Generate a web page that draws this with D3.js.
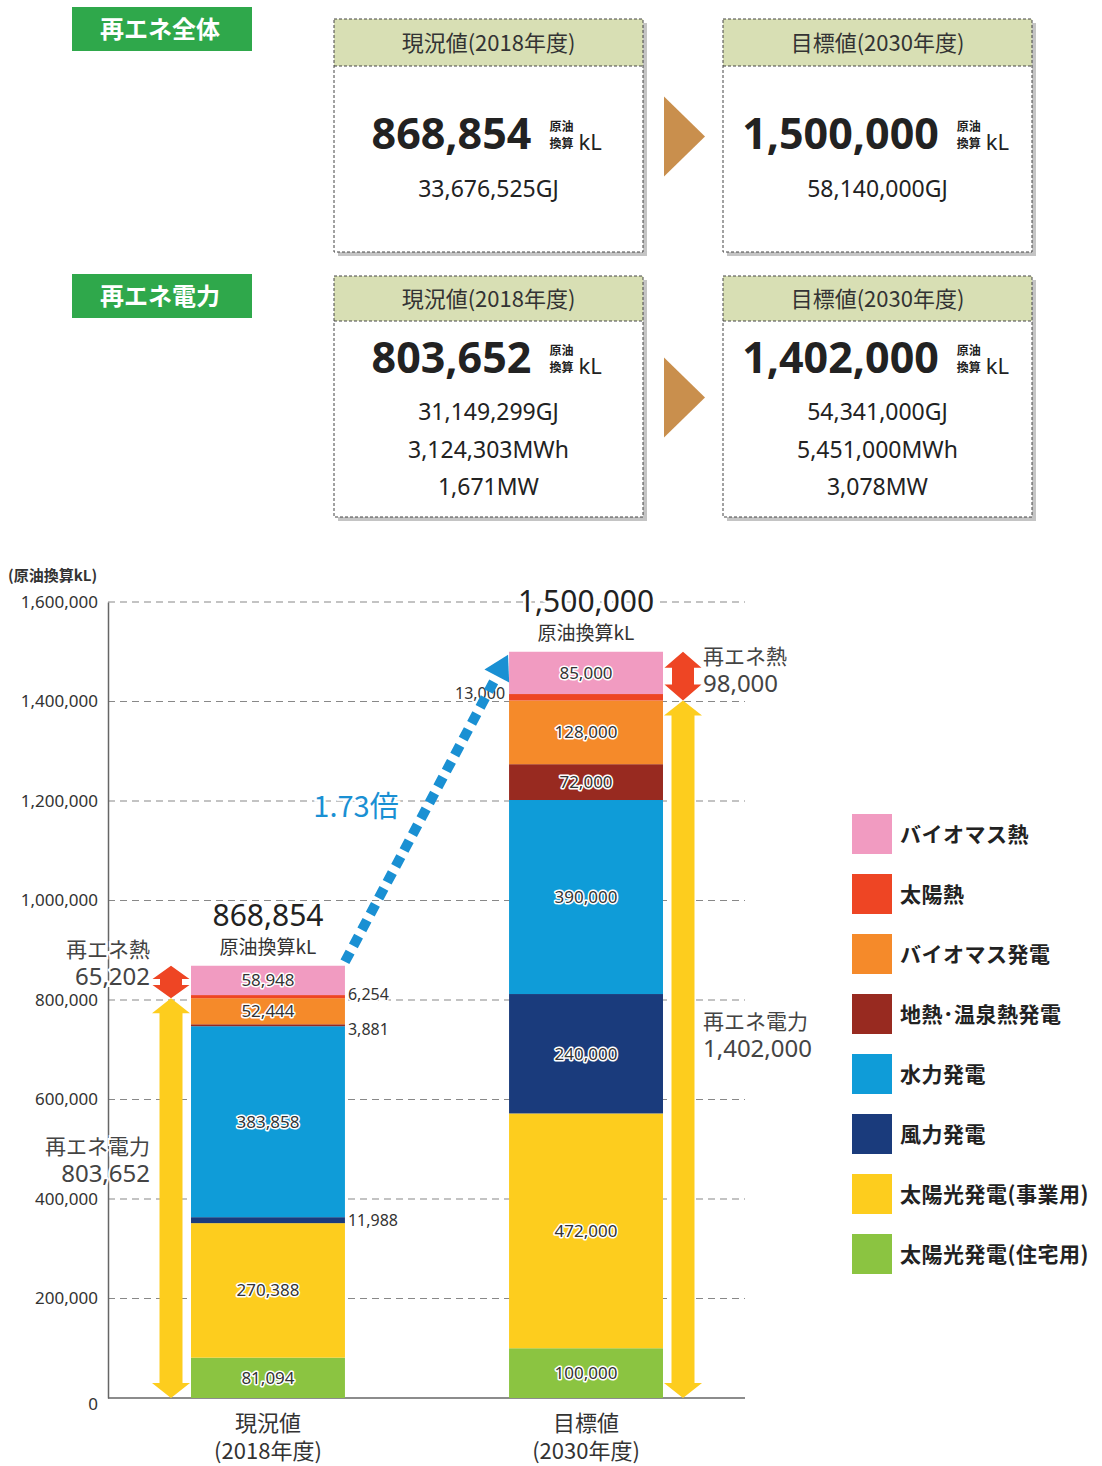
<!DOCTYPE html>
<html>
<head>
<meta charset="utf-8">
<script src="https://cdn.jsdelivr.net/npm/d3@7"></script>
<style>
  body { margin: 0; background: #fff; }
  svg { display: block; font-family: "Noto Sans CJK JP", "Noto Sans", sans-serif; }
</style>
</head>
<body>
<svg id="chart" width="1102" height="1466"></svg>
<script>
// *** data ***
const categories = ['現況値', '目標値'];
const years = ['(2018年度)', '(2030年度)'];
const series = [
  'バイオマス熱', '太陽熱', 'バイオマス発電', '地熱･温泉熱発電',
  '水力発電', '風力発電', '太陽光発電(事業用)', '太陽光発電(住宅用)'
];
const colors = ['#F19BC1', '#EE4524', '#F58A2A', '#982A20', '#0F9CD8', '#1A3B7C', '#FDCD1E', '#8BC441'];
// bottom -> top order in the stack
const stackOrder = [7, 6, 5, 4, 3, 2, 1, 0];
const values2018 = [58948, 6254, 52444, 3881, 383858, 11988, 270388, 81094];
const values2030 = [85000, 13000, 128000, 72000, 390000, 240000, 472000, 100000];
const totals = [868854, 1500000];
const heatTotals = [65202, 98000];
const powerTotals = [803652, 1402000];
const yTicks = [0, 200000, 400000, 600000, 800000, 1000000, 1200000, 1400000, 1600000];
// thin segments labelled outside the bar
const outsideLabels = [[1, 3, 5], [1]];

// summary cards
const groupLabels = ['再エネ全体', '再エネ電力'];
const cardHeaders = ['現況値(2018年度)', '目標値(2030年度)'];
const cardMain = [['868,854', '1,500,000'], ['803,652', '1,402,000']];
const cardSubs = [
  [['33,676,525GJ'], ['58,140,000GJ']],
  [['31,149,299GJ', '3,124,303MWh', '1,671MW'], ['54,341,000GJ', '5,451,000MWh', '3,078MW']]
];

const svg = d3.select('#chart');
const fmt = d3.format(',');

// *** summary cards ***
const rows = [
  { top: 19, bottom: 252, head: 47, mainY: 149, subY: 197, labelY: 7 },
  { top: 276, bottom: 517, head: 45, mainY: 373, subY: 420, labelY: 274 }
];
const cardX = [334, 723];
const cardW = 309;

rows.forEach((r, ri) => {
  svg.append('rect')
    .attr('x', 72).attr('y', r.labelY).attr('width', 180).attr('height', 44)
    .attr('fill', '#2FA84B');
  svg.append('text')
    .attr('x', 160).attr('y', r.labelY + 31)
    .attr('text-anchor', 'middle')
    .attr('fill', '#fff').attr('font-size', 24).attr('font-weight', 700)
    .text(groupLabels[ri]);

  cardX.forEach((x, ci) => {
    const h = r.bottom - r.top;
    const g = svg.append('g');
    g.append('rect')
      .attr('x', x + 4).attr('y', r.top + 4).attr('width', cardW).attr('height', h)
      .attr('fill', '#c4c4c4');
    g.append('rect')
      .attr('x', x).attr('y', r.top).attr('width', cardW).attr('height', h)
      .attr('fill', '#fff');
    g.append('rect')
      .attr('x', x).attr('y', r.top).attr('width', cardW).attr('height', r.head)
      .attr('fill', '#D8DFB4');
    g.append('rect')
      .attr('x', x).attr('y', r.top).attr('width', cardW).attr('height', h)
      .attr('fill', 'none').attr('stroke', '#444').attr('stroke-width', 1)
      .attr('stroke-dasharray', '3,2');
    g.append('line')
      .attr('x1', x).attr('x2', x + cardW)
      .attr('y1', r.top + r.head).attr('y2', r.top + r.head)
      .attr('stroke', '#444').attr('stroke-dasharray', '3,2');
    const cx = x + cardW / 2;
    g.append('text')
      .attr('x', cx).attr('y', r.top + r.head / 2 + 8)
      .attr('text-anchor', 'middle').attr('fill', '#333').attr('font-size', 22)
      .text(cardHeaders[ci]);

    // main value + unit
    const main = g.append('text')
      .attr('y', r.mainY).attr('fill', '#222')
      .attr('font-size', 43).attr('font-weight', 700)
      .attr('font-family', '"Noto Sans", sans-serif')
      .text(cardMain[ri][ci]);
    const mw = main.node().getComputedTextLength();
    const total = mw + 18 + 56;
    const left = cx - total / 2;
    main.attr('x', left);
    const ux = left + mw + 18;
    g.append('text').attr('x', ux).attr('y', r.mainY - 18)
      .attr('font-size', 12).attr('font-weight', 700).attr('fill', '#222').text('原油');
    g.append('text').attr('x', ux).attr('y', r.mainY - 1)
      .attr('font-size', 12).attr('font-weight', 700).attr('fill', '#222').text('換算');
    g.append('text').attr('x', ux + 29).attr('y', r.mainY + 1)
      .attr('font-size', 22).attr('fill', '#222')
      .attr('font-family', '"Noto Sans", sans-serif').text('kL');

    cardSubs[ri][ci].forEach((s, si) => {
      g.append('text')
        .attr('x', cx).attr('y', r.subY + si * 37.5)
        .attr('text-anchor', 'middle').attr('fill', '#222').attr('font-size', 23)
        .attr('font-family', '"Noto Sans", sans-serif')
        .text(s);
    });
  });

  // arrow between cards
  const my = (r.top + r.bottom) / 2 + 1;
  svg.append('path')
    .attr('d', `M664,${my - 40}L705,${my}L664,${my + 40}Z`)
    .attr('fill', '#C98F4D');
});

// *** stacked bar chart ***
const y = d3.scaleLinear().domain([0, 1600000]).range([1398, 602]);
const x = d3.scaleBand().domain(categories).range([108, 746]).paddingInner(0.516).paddingOuter(0.261);

svg.append('text')
  .attr('x', 8).attr('y', 581).attr('font-size', 15).attr('font-weight', 700).attr('fill', '#333')
  .text('(原油換算kL)');

// grid
svg.append('g')
  .selectAll('line')
  .data(yTicks.filter(d => d > 0))
  .join('line')
  .attr('x1', 108).attr('x2', 745)
  .attr('y1', d => y(d)).attr('y2', d => y(d))
  .attr('stroke', '#888').attr('stroke-width', 1.2).attr('stroke-dasharray', '7,5');

const yAxis = svg.append('g')
  .attr('transform', 'translate(108,0)')
  .call(d3.axisLeft(y).tickValues(yTicks).tickFormat(fmt).tickSize(0).tickPadding(10));
yAxis.select('.domain').attr('stroke', '#666').attr('stroke-width', 1.5);
yAxis.selectAll('text')
  .attr('font-size', 17).attr('fill', '#333')
  .attr('font-family', '"Noto Sans", sans-serif');
yAxis.selectAll('.tick').filter(d => d === 0).select('text').attr('dy', '0.65em');

// baseline
svg.append('line')
  .attr('x1', 108).attr('x2', 745).attr('y1', y(0)).attr('y2', y(0))
  .attr('stroke', '#666').attr('stroke-width', 1.5);

const allValues = [values2018, values2030];
const stackData = categories.map((c, ci) => {
  let acc = 0;
  return stackOrder.map(si => {
    const v = allValues[ci][si];
    const seg = { cat: c, ci, si, v, y0: acc, y1: acc + v };
    acc += v;
    return seg;
  });
});

const barG = svg.append('g');
stackData.forEach(segs => {
  barG.selectAll(null)
    .data(segs)
    .join('rect')
    .attr('x', d => x(d.cat))
    .attr('width', x.bandwidth())
    .attr('y', d => y(d.y1))
    .attr('height', d => y(d.y0) - y(d.y1))
    .attr('fill', d => colors[d.si]);
});

// labels inside bars
stackData.forEach(segs => {
  barG.selectAll(null)
    .data(segs.filter(d => !outsideLabels[d.ci].includes(d.si)))
    .join('text')
    .attr('x', d => x(d.cat) + x.bandwidth() / 2)
    .attr('y', d => (y(d.y0) + y(d.y1)) / 2 + 6)
    .attr('text-anchor', 'middle')
    .attr('font-size', 17)
    .attr('font-family', '"Noto Sans", sans-serif')
    .attr('fill', '#333')
    .attr('stroke', '#fff').attr('stroke-width', 3).attr('paint-order', 'stroke')
    .attr('stroke-linejoin', 'round')
    .text(d => fmt(d.v));
});

// labels outside bars (thin segments)
const outsidePos = {
  '0-1': { dx: 1, dy: -3 },
  '0-3': { dx: 1, dy: 4 },
  '0-5': { dx: 1, dy: 0 },
  '1-1': { dx: -1, dy: -4 }
};
stackData.forEach(segs => {
  segs.filter(d => outsideLabels[d.ci].includes(d.si)).forEach(d => {
    const p = outsidePos[d.ci + '-' + d.si];
    const left = p.dx < 0;
    barG.append('text')
      .attr('x', left ? x(d.cat) - 4 : x(d.cat) + x.bandwidth() + 3)
      .attr('y', (y(d.y0) + y(d.y1)) / 2 + 6 + p.dy)
      .attr('text-anchor', left ? 'end' : 'start')
      .attr('font-size', 16)
      .attr('font-family', '"Noto Sans", sans-serif')
      .attr('fill', '#333')
      .attr('stroke', '#fff').attr('stroke-width', 3).attr('paint-order', 'stroke')
      .text(fmt(d.v));
  });
});

// totals above bars
categories.forEach((c, ci) => {
  const cx = x(c) + x.bandwidth() / 2;
  const top = y(totals[ci]);
  svg.append('text')
    .attr('x', cx).attr('y', top - 40)
    .attr('text-anchor', 'middle').attr('font-size', 30).attr('fill', '#222')
    .attr('font-family', '"Noto Sans", sans-serif')
    .attr('stroke', '#fff').attr('stroke-width', 5).attr('paint-order', 'stroke')
    .text(fmt(totals[ci]));
  svg.append('text')
    .attr('x', cx).attr('y', top - 12)
    .attr('text-anchor', 'middle').attr('font-size', 19).attr('fill', '#333')
    .text('原油換算kL');

  // x labels
  svg.append('text')
    .attr('x', cx).attr('y', 1431)
    .attr('text-anchor', 'middle').attr('font-size', 22).attr('fill', '#333')
    .text(c);
  svg.append('text')
    .attr('x', cx).attr('y', 1459)
    .attr('text-anchor', 'middle').attr('font-size', 22).attr('fill', '#333')
    .text(years[ci]);
});

// double-headed arrows
const doubleArrow = (cx, yTop, yBot, bodyW, headW, headH) => {
  const b = bodyW / 2, h = headW / 2;
  const hh = Math.min(headH, (yBot - yTop) / 2 - 3);
  return `M${cx},${yTop} L${cx + h},${yTop + hh} L${cx + b},${yTop + hh} L${cx + b},${yBot - hh}` +
    ` L${cx + h},${yBot - hh} L${cx},${yBot} L${cx - h},${yBot - hh} L${cx - b},${yBot - hh}` +
    ` L${cx - b},${yTop + hh} L${cx - h},${yTop + hh} Z`;
};
const arrowX = [171, 683];
categories.forEach((c, ci) => {
  svg.append('path')
    .attr('d', doubleArrow(arrowX[ci], y(totals[ci]), y(powerTotals[ci]), 22, 37, 16))
    .attr('fill', '#EE4524');
  svg.append('path')
    .attr('d', doubleArrow(arrowX[ci], y(powerTotals[ci]), y(0), 23, 38, 15))
    .attr('fill', '#FDCD1E');
});

// side annotations
const annot = [
  { x: 150, anchor: 'end', heatY: 957, powerY: 1154 },
  { x: 703, anchor: 'start', heatY: 664, powerY: 1029 }
];
annot.forEach((a, ci) => {
  [['再エネ熱', heatTotals[ci], a.heatY], ['再エネ電力', powerTotals[ci], a.powerY]].forEach(([lab, v, yy]) => {
    svg.append('text')
      .attr('x', a.x).attr('y', yy)
      .attr('text-anchor', a.anchor).attr('font-size', 21).attr('fill', '#444')
      .attr('stroke', '#fff').attr('stroke-width', 4).attr('paint-order', 'stroke')
      .text(lab);
    svg.append('text')
      .attr('x', a.x).attr('y', yy + 28)
      .attr('text-anchor', a.anchor).attr('font-size', 24).attr('fill', '#444')
      .attr('font-family', '"Noto Sans", sans-serif')
      .attr('stroke', '#fff').attr('stroke-width', 4).attr('paint-order', 'stroke')
      .text(fmt(v));
  });
});

// growth arrow
const gx0 = x(categories[0]) + x.bandwidth(), gy0 = y(totals[0]) - 4;
const gx1 = x(categories[1]) - 1, gy1 = y(totals[1]) + 3;
const ang = Math.atan2(gy1 - gy0, gx1 - gx0);
const headLen = 24;
const lx = gx1 - Math.cos(ang) * headLen, ly = gy1 - Math.sin(ang) * headLen;
svg.append('line')
  .attr('x1', gx0).attr('y1', gy0).attr('x2', lx).attr('y2', ly)
  .attr('stroke', '#1A90D3').attr('stroke-width', 10).attr('stroke-dasharray', '11,7');
const px = Math.cos(ang + Math.PI / 2) * 14, py = Math.sin(ang + Math.PI / 2) * 14;
svg.append('path')
  .attr('d', `M${gx1},${gy1} L${lx + px},${ly + py} L${lx - px},${ly - py} Z`)
  .attr('fill', '#1A90D3');
svg.append('text')
  .attr('x', 356).attr('y', 817)
  .attr('text-anchor', 'middle').attr('font-size', 29).attr('fill', '#1A90D3')
  .attr('stroke', '#fff').attr('stroke-width', 5).attr('paint-order', 'stroke')
  .text('1.73倍');

// legend
const legend = svg.append('g').attr('transform', 'translate(852,814)');
series.forEach((s, i) => {
  legend.append('rect')
    .attr('x', 0).attr('y', i * 60).attr('width', 40).attr('height', 40)
    .attr('fill', colors[i]);
  legend.append('text')
    .attr('x', 48).attr('y', i * 60 + 28)
    .attr('font-size', 21).attr('font-weight', 700).attr('fill', '#222')
    .attr('letter-spacing', 0.5)
    .text(s);
});
</script>
</body>
</html>
